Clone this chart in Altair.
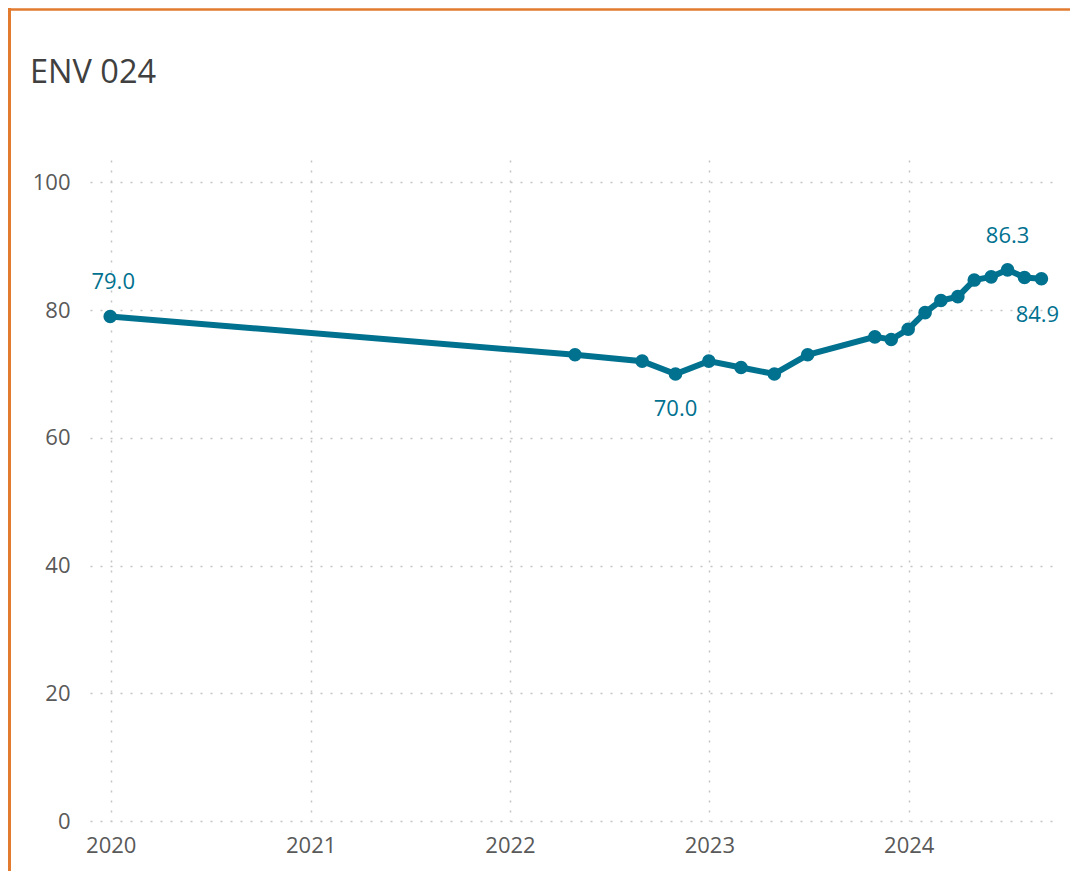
import altair as alt
import pandas as pd

TITLE = "ENV 024"
DATES = ["2019-12-31", "2022-04-30", "2022-08-31", "2022-10-31", "2022-12-31",
         "2023-02-28", "2023-04-30", "2023-06-30", "2023-10-31", "2023-11-30",
         "2023-12-31", "2024-01-31", "2024-02-29", "2024-03-31", "2024-04-30",
         "2024-05-31", "2024-06-30", "2024-07-31", "2024-08-31"]
VALUES = [79.0, 73.0, 72.0, 70.0, 72.0,
          71.0, 70.0, 73.0, 75.8, 75.4,
          77.0, 79.6, 81.5, 82.1, 84.7,
          85.2, 86.3, 85.1, 84.9]
Y_TICKS = [0, 20, 40, 60, 80, 100]
X_TICKS = [2020, 2021, 2022, 2023, 2024]
# annotated points: first, minimum, maximum, last
LABEL_IDX = [0, 3, 16, 18]

TEAL = "#00718F"
ORANGE = "#E27B2F"
FONT = "Open Sans"
W, H = 970, 661
PAD = {"left": 82, "top": 152, "right": 10, "bottom": 50}

df = pd.DataFrame({"date": DATES, "value": VALUES})
df["label"] = [f"{v:.1f}" for v in VALUES]
df["idx"] = list(range(len(VALUES)))

x = alt.X("date:T",
          scale=alt.Scale(domain=[alt.DateTime(year=2019, month=11, date=24),
                                  alt.DateTime(year=2024, month=10, date=4)]),
          axis=alt.Axis(values=[alt.DateTime(year=y, month=1, date=1) for y in X_TICKS],
                        format="%Y", title=None, labelPadding=14))
y = alt.Y("value:Q",
          scale=alt.Scale(domain=[0, 103.5], nice=False, zero=True),
          axis=alt.Axis(values=Y_TICKS, title=None, labelPadding=20))

base = alt.Chart(df).encode(x=x, y=y)
line = base.mark_line(color=TEAL, strokeWidth=6)
pts = base.mark_circle(color=TEAL, size=185, opacity=1)

label_layers = []
offsets = {0: (3, -34), 3: (0, 35), 16: (0, -34), 18: (-4, 36)}
for i in LABEL_IDX:
    dx, dy = offsets[i]
    label_layers.append(
        base.transform_filter(alt.datum.idx == i)
        .mark_text(color=TEAL, font=FONT, fontSize=22, baseline="middle",
                   align="center", dx=dx, dy=dy)
        .encode(text="label:N")
    )

one = pd.DataFrame({"t": [TITLE]})
title = alt.Chart(one).mark_text(align="left", baseline="alphabetic", font=FONT,
                                 fontSize=32.5, color="#404040").encode(
    text="t:N", x=alt.value(-60), y=alt.value(-77))
left_rule = alt.Chart(one).mark_rule(color=ORANGE, strokeWidth=3).encode(
    x=alt.value(-80.5), y=alt.value(-152), y2=alt.value(H + PAD["bottom"]))
top_rule = alt.Chart(one).mark_rule(color=ORANGE, strokeWidth=2.4).encode(
    x=alt.value(-82), x2=alt.value(W + PAD["right"]), y=alt.value(-150.5))

chart = alt.layer(left_rule, top_rule, title, line, pts, *label_layers).properties(
    width=W, height=H, padding=PAD,
    autosize=alt.AutoSizeParams(type="none")
).configure_view(stroke=None).configure_axis(
    grid=True, gridDash=[2, 8], gridColor="#c4c4c4", gridWidth=1.5,
    domain=False, ticks=False, labelFont=FONT, labelFontSize=22,
    labelColor="#595959"
)

chart.save("out.html", embed_options={"renderer": "svg", "actions": False})
